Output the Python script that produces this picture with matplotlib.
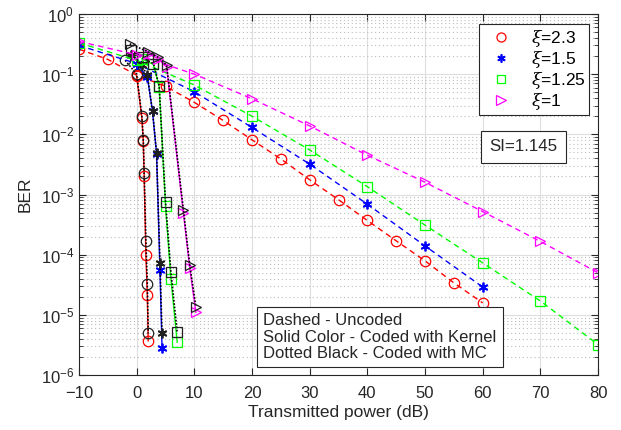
import numpy as np
import matplotlib
matplotlib.use("Agg")
import matplotlib.pyplot as plt
from matplotlib.lines import Line2D

# -----------------------------------------------------------------------------
# BER vs transmitted power, uncoded / kernel coded / MC coded
# -----------------------------------------------------------------------------
plt.rcParams["font.family"] = ["Liberation Sans", "DejaVu Sans"]
plt.rcParams["mathtext.fontset"] = "custom"
plt.rcParams["mathtext.rm"] = "Liberation Sans"
plt.rcParams["mathtext.it"] = "DejaVu Serif:italic"

# uncoded (dashed)
x_unc_red = [-10, -5, 0, 5, 10, 15, 20, 25, 30, 35, 40, 45, 50, 55, 60]
ber_unc_red = [0.26, 0.176, 0.096, 0.063, 0.034, 0.017, 0.0081, 0.0039,
               0.00176, 8.2e-4, 3.7e-4, 1.7e-4, 7.9e-5, 3.4e-5, 1.58e-5]
x_unc_blue = [-10, 0, 10, 20, 30, 40, 50, 60]
ber_unc_blue = [0.30, 0.15, 0.051, 0.013, 0.0032, 6.9e-4, 1.4e-4, 2.9e-5]
x_unc_green = [-10, 0, 10, 20, 30, 40, 50, 60, 70, 80]
ber_unc_green = [0.33, 0.17, 0.066, 0.020, 0.0055, 0.00135, 3.1e-4, 7.3e-5,
                 1.7e-5, 3.2e-6]
x_unc_mag = [-10, 0, 10, 20, 30, 40, 50, 60, 70, 80]
ber_unc_mag = [0.35, 0.21, 0.10, 0.039, 0.0138, 0.0045, 0.0016, 5.2e-4,
               1.66e-4, 5.0e-5]

# coded with kernel (solid colour)
x_ker_red = [0, 0.9, 1.15, 1.3, 1.6, 1.85, 2.0]
ber_ker_red = [0.092, 0.019, 0.0077, 0.002, 1.0e-4, 2.1e-5, 3.7e-6]
x_ker_blue = [0, 1.85, 2.75, 3.45, 4.04, 4.4]
ber_ker_blue = [0.15, 0.09, 0.024, 0.0048, 5.6e-5, 2.8e-6]
x_ker_green = [0.9, 2.9, 3.9, 5.0, 5.94, 7.03]
ber_ker_green = [0.18, 0.145, 0.062, 6.5e-4, 4.0e-5, 3.5e-6]
x_ker_mag = [2.0, 3.75, 5.2, 8.1, 9.2, 10.27]
ber_ker_mag = [0.22, 0.18, 0.13, 5.0e-4, 6.0e-5, 1.1e-5]

# coded with MC (dotted black)
x_mc_red = [-2, 0, 0.9, 1.15, 1.3, 1.6, 1.85, 2.0]
ber_mc_red = [0.17, 0.10, 0.02, 0.008, 0.0023, 1.66e-4, 3.2e-5, 4.9e-6]
x_mc_blue = [-0.9, 0.87, 1.85, 2.75, 3.45, 4.04, 4.4]
ber_mc_blue = [0.21, 0.14, 0.096, 0.024, 0.0049, 7.4e-5, 4.9e-6]
x_mc_green = [-0.9, 0.9, 2.9, 3.9, 5.0, 5.94, 7.03]
ber_mc_green = [0.25, 0.19, 0.15, 0.064, 7.6e-4, 5.1e-5, 5.1e-6]
x_mc_mag = [-1.2, 2.0, 3.75, 5.2, 8.1, 9.2, 10.27]
ber_mc_mag = [0.32, 0.235, 0.19, 0.14, 5.6e-4, 6.8e-5, 1.35e-5]

labels = [r"$\xi$=2.3", r"$\xi$=1.5", r"$\xi$=1.25", r"$\xi$=1"]
colors = ["#ff0000", "#0000ff", "#00ff00", "#ff00ff"]
asterisk = (6, 2, 0)
markers = ["o", asterisk, "s", ">"]
msizes = [7.5, 7.0, 6.5, 7.5]

uncoded = [(x_unc_red, ber_unc_red), (x_unc_blue, ber_unc_blue),
           (x_unc_green, ber_unc_green), (x_unc_mag, ber_unc_mag)]
kernel = [(x_ker_red, ber_ker_red), (x_ker_blue, ber_ker_blue),
          (x_ker_green, ber_ker_green), (x_ker_mag, ber_ker_mag)]
mc = [(x_mc_red, ber_mc_red), (x_mc_blue, ber_mc_blue),
      (x_mc_green, ber_mc_green), (x_mc_mag, ber_mc_mag)]

fig = plt.figure(figsize=(6.21, 4.30), dpi=100)
ax = fig.add_axes([79 / 621, 55 / 430, 519 / 621, 361 / 430])

for (xu, yu), (xk, yk), (xm, ym), c, m, ms in zip(uncoded, kernel, mc,
                                                   colors, markers, msizes):
    mew = 1.3 if m == asterisk else 0.9
    ax.semilogy(xu, yu, linestyle=(0, (4, 3)), color=c, lw=1.0, marker=m,
                ms=ms, mfc="none", mec=c, mew=mew)
    ax.semilogy(xk, yk, linestyle="-", color=c, lw=1.0, marker=m,
                ms=ms, mfc="none", mec=c, mew=mew)
    ax.semilogy(xm, ym, linestyle=(0, (1, 1)), color="black", lw=1.2,
                marker=m, ms=ms, mfc="none", mec="#202020", mew=mew)

ax.set_xlim(-10, 80)
ax.set_ylim(1e-6, 1)
ax.set_xticks(np.arange(-10, 81, 10))

ax.grid(True, which="major", color="#dedede", lw=0.8, ls="-")
ax.grid(True, which="minor", axis="y", color="#bdbdbd", lw=0.8, ls=(0, (1, 2.5)))
ax.set_axisbelow(True)

ax.tick_params(which="both", direction="in", top=True, right=True,
               colors="#262626", labelsize=12)
ax.tick_params(axis="x", pad=8)
ax.tick_params(which="major", length=5)
ax.tick_params(which="minor", length=3)
for sp in ax.spines.values():
    sp.set_color("#262626")
    sp.set_linewidth(0.8)

ax.set_xlabel("Transmitted power (dB)", fontsize=12.5, color="#262626",
              labelpad=3)
ax.set_ylabel("BER", fontsize=12.5, color="#262626", labelpad=6)

handles = [Line2D([], [], ls="none", marker=m, ms=ms - 1, mfc="none", mec=c,
                  mew=1.2 if m == asterisk else 0.9)
           for c, m, ms in zip(colors, markers, msizes)]
leg = ax.legend(handles, labels, loc="upper right",
                bbox_to_anchor=(0.983, 0.972), fontsize=12.5, fancybox=False,
                framealpha=1, edgecolor="#262626", handlelength=2.2,
                handletextpad=0.6, labelspacing=0.0, borderpad=0.2,
                borderaxespad=0)
leg.get_frame().set_linewidth(0.8)

ax.text(0.790, 0.632, "SI=1.145", transform=ax.transAxes, fontsize=12.2,
        va="center", ha="left", color="#262626",
        bbox=dict(boxstyle="square,pad=0.5", fc="white", ec="#262626", lw=0.8))

ax.text(0.355, 0.105,
        "Dashed - Uncoded\nSolid Color - Coded with Kernel\nDotted Black - Coded with MC",
        transform=ax.transAxes, fontsize=12, va="center", ha="left",
        color="#262626", linespacing=1.1,
        bbox=dict(boxstyle="square,pad=0.38", fc="white", ec="#262626", lw=0.8))

fig.savefig("out.png", dpi=100)
